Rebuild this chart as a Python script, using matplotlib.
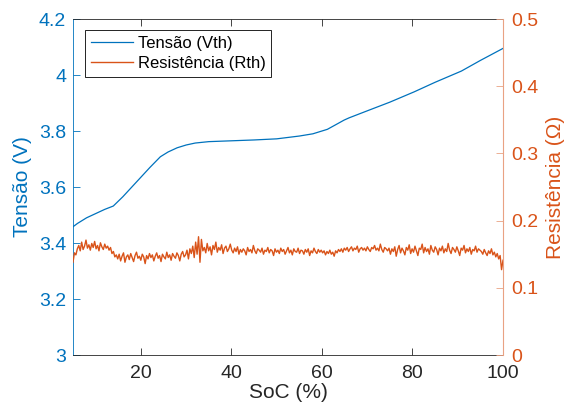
import numpy as np
import matplotlib
matplotlib.use("Agg")
import matplotlib.pyplot as plt
from matplotlib.ticker import FormatStrFormatter

plt.rcParams['font.family'] = ['Liberation Sans', 'DejaVu Sans']

# Thevenin voltage vs SoC
vth_soc = [5, 6, 8, 10, 12, 13.9, 16, 18, 20, 22, 24.3, 26, 28, 30, 32, 35, 40, 45, 50, 55,
           58, 61.2, 63, 64.9, 66, 70, 75, 80.4, 85, 90.8, 95, 100]
vth = [3.458, 3.47, 3.49, 3.505, 3.52, 3.532, 3.565, 3.60, 3.635, 3.67, 3.708, 3.725, 3.74, 3.75,
       3.757, 3.762, 3.765, 3.768, 3.772, 3.782, 3.79, 3.806, 3.822, 3.839, 3.847, 3.872, 3.903,
       3.940, 3.974, 4.014, 4.052, 4.095]

# Thevenin resistance vs SoC, evenly sampled from 5 % to 100 %
rth_soc_range = (5, 100)
rth = [
    0.138, 0.152, 0.149, 0.158, 0.163, 0.155, 0.168, 0.157, 0.162, 0.171, 0.159, 0.164, 0.156,
    0.166, 0.160, 0.169, 0.158, 0.163, 0.155, 0.167, 0.161, 0.157, 0.165, 0.159, 0.162,
    0.156, 0.160, 0.151, 0.154, 0.146, 0.149,
    0.143, 0.150, 0.140, 0.147, 0.152, 0.138, 0.146, 0.149, 0.142, 0.151, 0.145, 0.139, 0.148,
    0.153, 0.144, 0.147, 0.141, 0.150, 0.146, 0.136, 0.148, 0.143, 0.151, 0.145, 0.149, 0.140,
    0.147, 0.152, 0.144, 0.148, 0.139, 0.150, 0.146, 0.143, 0.153, 0.145, 0.149, 0.141, 0.151,
    0.147, 0.144, 0.152, 0.148, 0.140, 0.150, 0.154, 0.146,
    0.149, 0.156, 0.143, 0.158, 0.151, 0.162, 0.145, 0.168, 0.150, 0.176, 0.138, 0.172, 0.155,
    0.160, 0.152, 0.166, 0.155, 0.161, 0.149, 0.163, 0.157, 0.168, 0.153, 0.160, 0.156, 0.164,
    0.151, 0.159, 0.162, 0.154, 0.158, 0.165,
    0.156, 0.152, 0.159, 0.154, 0.161, 0.150, 0.157, 0.153, 0.158, 0.155, 0.149, 0.160, 0.154,
    0.157, 0.152, 0.163, 0.155, 0.151, 0.158, 0.156, 0.153, 0.159, 0.150, 0.156, 0.154, 0.160,
    0.152, 0.157, 0.155, 0.148, 0.158, 0.153, 0.156, 0.151, 0.159, 0.154, 0.157, 0.150, 0.155,
    0.160, 0.152, 0.156, 0.149, 0.158, 0.154, 0.153, 0.159, 0.151, 0.156, 0.155, 0.150, 0.157,
    0.153, 0.158, 0.148, 0.155, 0.152, 0.159, 0.154, 0.151, 0.157, 0.153, 0.156,
    0.152, 0.155, 0.149, 0.154, 0.151, 0.156, 0.150, 0.153, 0.147, 0.155, 0.152, 0.157, 0.154,
    0.158, 0.153, 0.159,
    0.156, 0.160, 0.154, 0.158, 0.161, 0.155, 0.159, 0.157, 0.162, 0.153, 0.158, 0.160, 0.156,
    0.159, 0.155, 0.161, 0.157, 0.154, 0.160, 0.158, 0.163, 0.156, 0.159, 0.155, 0.165, 0.157,
    0.153, 0.160, 0.158, 0.155, 0.159,
    0.150, 0.158, 0.154, 0.161, 0.147, 0.157, 0.163, 0.152, 0.159, 0.155, 0.149, 0.160, 0.156,
    0.164, 0.151, 0.158, 0.153, 0.162, 0.155, 0.148, 0.159, 0.157, 0.165, 0.152, 0.160, 0.154,
    0.158, 0.150, 0.163, 0.156, 0.153, 0.161, 0.157, 0.149, 0.159, 0.155, 0.162, 0.152, 0.158,
    0.154, 0.166, 0.156, 0.151, 0.160, 0.157, 0.153, 0.161, 0.155, 0.148, 0.159, 0.156, 0.163,
    0.152, 0.158, 0.154, 0.160, 0.150, 0.157, 0.155, 0.162, 0.153, 0.158, 0.156,
    0.154, 0.150, 0.157, 0.152, 0.148, 0.155, 0.151, 0.158, 0.149, 0.153, 0.146, 0.151, 0.143,
    0.148, 0.127, 0.141,
]
rth_soc = np.linspace(rth_soc_range[0], rth_soc_range[1], len(rth))

x_ticks = [20, 40, 60, 80, 100]
v_ticks = [3, 3.2, 3.4, 3.6, 3.8, 4, 4.2]
r_ticks = [0, 0.1, 0.2, 0.3, 0.4, 0.5]

BLUE = '#0072BD'
ORANGE = '#D95319'
LIGHT_ORANGE = '#E9A283'
DARK = '#262626'

fig = plt.figure(figsize=(5.77, 4.12), dpi=100)
ax = fig.add_axes([73/577, 1-355/412, (503-73)/577, (355-19)/412])
ax2 = ax.twinx()

l1, = ax.plot(vth_soc, vth, color=BLUE, lw=0.9, label='Tensão (Vth)')
l2, = ax2.plot(rth_soc, rth, color=ORANGE, lw=1.0, label='Resistência (Rth)')

ax.set_xlim(5, 100)
ax.set_ylim(3, 4.2)
ax2.set_ylim(0, 0.5)
ax.set_xticks(x_ticks)
ax.set_yticks(v_ticks)
ax2.set_yticks(r_ticks)
ax.yaxis.set_major_formatter(FormatStrFormatter('%g'))
ax2.yaxis.set_major_formatter(FormatStrFormatter('%g'))

fs = 14
ax.tick_params(axis='x', direction='in', top=True, length=5, width=0.6,
               colors=DARK, labelsize=fs, pad=7)
ax.tick_params(axis='y', direction='in', length=5, width=0.6, colors=BLUE,
               labelsize=fs, pad=5)
ax2.tick_params(axis='y', direction='in', length=5, width=0.6, color=LIGHT_ORANGE,
                labelcolor=ORANGE, labelsize=fs, pad=6)

for s in ['top', 'bottom']:
    ax.spines[s].set_color(DARK)
    ax.spines[s].set_linewidth(0.6)
    ax2.spines[s].set_visible(False)
ax.spines['left'].set_color(BLUE)
ax.spines['left'].set_linewidth(0.6)
ax2.spines['left'].set_visible(False)
ax2.spines['right'].set_color(LIGHT_ORANGE)
ax2.spines['right'].set_linewidth(0.8)
ax.spines['right'].set_visible(False)

ax.set_xlabel('SoC (%)', color=DARK, fontsize=15, labelpad=1)
ax.set_ylabel('Tensão (V)', color=BLUE, fontsize=15, labelpad=5)
ax2.set_ylabel('Resistência (Ω)', color=ORANGE, fontsize=15, labelpad=5)

leg = ax2.legend(handles=[l1, l2], loc='upper left',
                 bbox_to_anchor=(85/577, 1-30/412), bbox_transform=fig.transFigure,
                 borderaxespad=0, fancybox=False, framealpha=1, edgecolor='black',
                 fontsize=12, handlelength=2.5, borderpad=0.35, labelspacing=0.3,
                 handletextpad=0.3)
leg.get_frame().set_linewidth(0.6)

fig.savefig('out.png', dpi=100)
